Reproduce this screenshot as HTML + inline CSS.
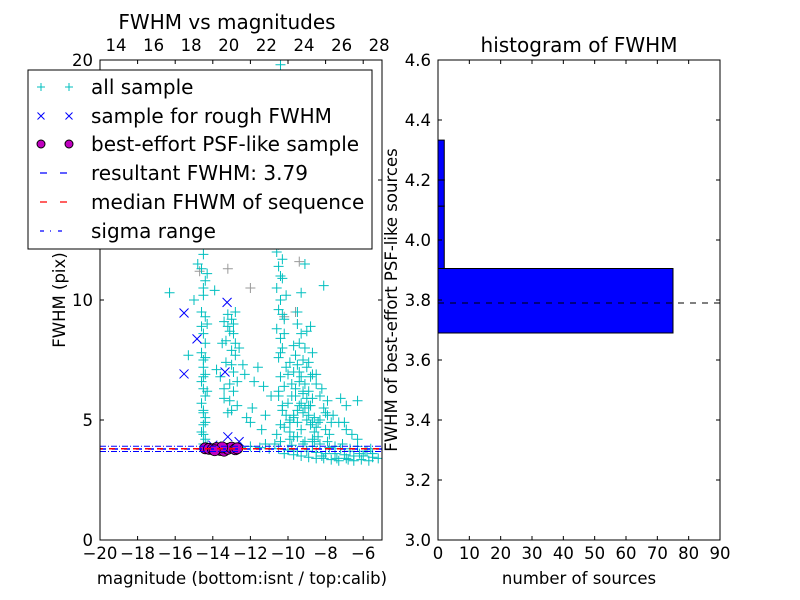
<!DOCTYPE html>
<html><head><meta charset="utf-8"><style>
body{margin:0;background:#fff}
svg{display:block;font-family:"DejaVu Sans","Liberation Sans",sans-serif}
</style></head><body>
<svg id="c" width="800" height="600" viewBox="0 0 800 600"></svg>
<script>
// ---- data ----
const allX=[-14.5,-14.4,-14.6,-14.5,-14.4,-14.5,-14.6,-14.4,-14.5,-14.6,-14.4,-14.5,-14.5,-14.6,-14.4,-14.5,-14.3,-14.6,-14.5,-14.4,-14.6,-14.5,
-13.4,-13.2,-13.0,-13.5,-12.9,-13.3,-12.8,-13.6,-13.1,-12.9,-13.4,-12.7,-13.0,-12.6,-12.8,-13.8,-12.3,-12.2,-11.9,
-10.6,-10.4,-10.5,-10.3,-10.6,-10.5,-10.4,-10.6,-10.5,-10.3,-10.6,-10.4,-10.5,-10.2,-10.6,-10.4,-10.3,-10.5,-10.1,-10.4,-10.2,-10.5,-10.0,-10.3,-9.9,-10.2,-10.6,-10.4,-10.4,-10.7,-10.2,
-9.8,-9.6,-9.4,-9.2,-9.0,-8.8,-9.7,-9.5,-9.3,-8.6,-8.4,-9.9,-9.7,-9.5,-9.3,-9.1,-9.6,-9.8,-9.0,-8.7,-8.5,-8.2,-7.9,-7.6,-7.3,-6.9,-6.6,-6.3,-9.4,-9.2,-8.9,-8.3,-8.0,-7.8,-9.9,-9.7,-10.9,-11.2,-11.4,-11.8,-12.0,-8.8,-6.9,-7.2,-6.3,-8.1,-9.0,
-14.3,-13.6,-12.5,-12.0,-11.5,-11.0,-10.5,-10.0,-9.5,-9.0,-8.5,-8.0,-7.5,-7.0,-6.5,-6.0,-5.5,-5.2,-9.8,-9.2,-8.7,-7.8,-7.2,-6.7,-6.2,-5.8,-11.2,-10.7,-8.2,-7.4,-6.8,-5.6,
-16.3,-15.3,-15.0,-14.8,-14.9,-13.9,-12.4,-11.6,-11.3,-8.6,-8.0,-7.0,
-14.5,-14.4,-14.5,-14.3,-14.5,-14.4,-14.6,-14.4,-14.5,-14.3,
-13.3,-13.1,-12.9,-13.2,-13.0,-12.8,-13.4,-12.9,-13.1,-12.7,-13.2,-13.0,
-10.5,-10.3,-10.4,-10.2,-10.5,-10.3,-10.4,-10.1,-10.3,-10.2,-10.4,-10.0,-10.5,-10.3,-10.1,-10.4,
-9.9,-9.7,-9.5,-9.3,-9.1,-8.9,-8.7,-8.5,-9.8,-9.6,-9.4,-9.2,-9.0,-8.8,-8.6,-8.4,-9.7,-9.5,-9.3,-9.1,-8.9,-8.7,-9.6,-9.4,-9.2,-9.0,-8.8,-9.5,-9.3,-9.1,-8.9,-8.7,-8.5,-8.3,-8.1,-7.9,-7.7,
-9.9,-9.5,-9.1,-8.7,-8.3,-7.9,-7.5,-7.1,-6.7,-6.3,-5.9,-5.5,-10.2,-9.7,-9.3,-8.9,-8.5,-8.1,-7.7,-7.3,-6.9,-6.5,-6.1,-5.7];
const allY=[4.0,4.2,4.5,4.8,5.1,5.4,5.7,6.0,6.3,6.6,6.9,7.2,7.5,7.8,8.2,8.6,9.0,9.5,10.2,10.8,11.3,11.9,
9.1,8.9,9.2,8.2,8.6,7.4,7.7,6.8,6.5,6.2,5.9,5.6,5.4,8.0,9.5,7.1,6.9,5.1,5.5,
17.0,16.2,15.4,14.8,14.0,13.3,12.6,12.0,11.4,10.9,10.5,10.0,9.6,9.2,8.8,8.4,8.0,7.6,7.2,6.8,6.4,6.0,5.7,5.4,5.0,4.7,4.4,4.1,19.8,18.2,17.6,
6.5,6.0,5.6,5.3,5.0,4.8,5.2,4.9,4.6,4.5,4.3,7.4,8.1,9.0,10.3,11.5,12.5,13.5,8.7,7.8,6.9,6.3,5.8,5.2,4.9,4.6,4.4,4.2,7.0,6.2,5.6,5.0,4.6,4.4,4.5,4.3,6.0,5.2,4.6,6.6,4.9,8.9,5.6,5.9,5.8,10.6,13.0,
3.95,3.9,3.85,3.9,3.85,3.8,3.8,3.75,3.7,3.7,3.65,3.6,3.6,3.55,3.5,3.5,3.45,3.4,3.95,4.0,3.9,3.85,3.8,3.7,3.6,3.7,4.0,4.0,3.5,3.4,3.35,3.8,
10.3,7.7,10.0,11.5,12.5,10.4,7.3,7.2,6.4,4.1,5.3,4.9,
4.4,4.9,5.3,6.2,6.8,7.6,8.9,9.3,10.5,11.1,
8.3,8.7,9.0,9.4,7.9,8.2,6.3,7.0,5.8,6.6,5.3,7.3,
15.8,14.4,13.6,12.9,12.3,11.7,11.0,10.2,9.4,8.6,7.8,6.9,6.2,5.6,5.2,4.8,
4.9,5.1,5.4,5.7,5.5,5.2,4.9,4.7,6.0,6.3,6.6,6.1,5.9,5.6,5.1,4.9,7.0,7.3,6.8,6.5,6.2,5.9,7.7,8.2,7.5,7.2,6.8,9.5,8.6,8.0,7.4,6.9,6.5,6.0,5.5,5.2,4.9,
4.2,4.3,4.1,4.2,4.0,4.1,3.9,4.0,3.8,3.9,3.7,3.6,3.6,3.55,3.5,3.45,3.4,3.4,3.35,3.3,3.4,3.3,3.35,3.3];
const roughX=[-15.53,-15.53,-14.84,-13.24,-13.35,-13.2,-12.6,-14.0,-13.6];
const roughY=[9.46,6.92,8.38,9.9,7.0,4.3,4.1,3.95,3.85];
const psfX=[-14.4,-14.2,-14.0,-13.8,-13.6,-13.4,-13.2,-13.0,-12.8,-12.7,-13.5,-13.9];
const psfY=[3.82,3.8,3.78,3.83,3.75,3.72,3.8,3.85,3.78,3.82,3.86,3.74];
const grayX=[-10.9,-10.2,-9.6,-12.0,-13.2,-14.7,-9.4];
const grayY=[15.2,9.3,9.5,10.5,11.3,11.2,11.6];
const resultFWHM=3.79, medianFWHM=3.8, sigmaLo=3.69, sigmaHi=3.905;
const xTicks=[-20,-18,-16,-14,-12,-10,-8,-6];
const topTicks=[14,16,18,20,22,24,26,28];
const yTicks=[0,5,10,15,20];
const binEdges=[3.69,3.905,4.113,4.2,4.333];
const binCounts=[75,2,2,2];
const hxTicks=[0,10,20,30,40,50,60,70,80,90];
const hyTicks=[3.0,3.2,3.4,3.6,3.8,4.0,4.2,4.4,4.6];

// ---- helpers ----
const S=document.getElementById('c'),NS='http://www.w3.org/2000/svg';
function el(t,a,p){const e=document.createElementNS(NS,t);for(const k in a)e.setAttribute(k,a[k]);(p||S).appendChild(e);return e;}
function txt(x,y,s,sz,anchor,extra){const e=el('text',Object.assign({x:x,y:y,'font-size':sz,'text-anchor':anchor||'middle',fill:'#000'},extra||{}));e.textContent=s;return e;}
const L={x0:100,x1:382,y0:540,y1:60};
const lx=v=>L.x0+(v+20)*(L.x1-L.x0)/15, ly=v=>L.y0-v*(L.y0-L.y1)/20;
const tx=v=>lx(v-33.15);
const R={x0:438,x1:720,y0:540,y1:60};
const hx=v=>R.x0+v*(R.x1-R.x0)/90, hy=v=>R.y0-(v-3.0)*(R.y0-R.y1)/1.6;

const gL=el('g',{});


const defs=el('defs',{});const cp=el('clipPath',{id:'cl'},defs);el('rect',{x:L.x0,y:L.y1,width:L.x1-L.x0,height:L.y0-L.y1},cp);
const pts=el('g',{'clip-path':'url(#cl)'},gL);
function plus(x,y,c,g,h){h=h||5;el('path',{d:`M${x-h},${y}h${2*h}M${x},${y-h}v${2*h}`,stroke:c,'stroke-width':1,fill:'none'},g);}
for(let i=0;i<grayX.length;i++){plus(lx(grayX[i]),ly(grayY[i]),'#999',pts);}
for(let i=0;i<allX.length;i++){plus(lx(allX[i]),ly(allY[i]),'#00bfbf',pts);}
for(let i=0;i<roughX.length;i++){const x=lx(roughX[i]),y=ly(roughY[i]);el('path',{d:`M${x-4.5},${y-4.5}l9,9M${x-4.5},${y+4.5}l9,-9`,stroke:'#0000ff','stroke-width':1},pts);}
for(let i=0;i<psfX.length;i++){el('circle',{cx:lx(psfX[i]),cy:ly(psfY[i]),r:5.5,fill:'#bf00bf',stroke:'#000','stroke-width':0.8},pts);}
el('line',{x1:L.x0,x2:L.x1,y1:ly(sigmaLo),y2:ly(sigmaLo),stroke:'#0000ff','stroke-dasharray':'6,2,1,2'},pts);
el('line',{x1:L.x0,x2:L.x1,y1:ly(sigmaHi),y2:ly(sigmaHi),stroke:'#0000ff','stroke-dasharray':'6,2,1,2'},pts);
el('line',{x1:L.x0,x2:L.x1,y1:ly(resultFWHM),y2:ly(resultFWHM),stroke:'#0000ff','stroke-width':1.5,'stroke-dasharray':'6,6'},pts);
el('line',{x1:L.x0,x2:L.x1,y1:ly(medianFWHM),y2:ly(medianFWHM),stroke:'#ff0000','stroke-width':1.5,'stroke-dasharray':'6,6','stroke-dashoffset':3},pts);
el('rect',{x:L.x0,y:L.y1,width:L.x1-L.x0,height:L.y0-L.y1,fill:'none',stroke:'#000'},gL);
xTicks.forEach(v=>{const x=lx(v);el('path',{d:`M${x},${L.y0}v-4M${x},${L.y1}v4`,stroke:'#000'},gL);txt(x,L.y0+19,'\u2212'+Math.abs(v),16.5);});
topTicks.forEach(v=>{txt(tx(v),51,String(v),16.5);});
yTicks.forEach(v=>{const y=ly(v);el('path',{d:`M${L.x0},${y}h4M${L.x1},${y}h-4`,stroke:'#000'},gL);txt(L.x0-7,y+6,String(v),16.5,'end');});
txt(242,584,'magnitude (bottom:isnt / top:calib)',16.5);
txt(0,0,'FWHM (pix)',16.5,'middle',{transform:'translate(65,300) rotate(-90)'});
txt(227,29,'FWHM vs magnitudes',20);
const lg=el('g',{});


el('rect',{x:28,y:70,width:344,height:179,fill:'#fff',stroke:'#000'},lg);
const ly0=[87,116,144,173,202,231];
const labs=['all sample','sample for rough FWHM','best-effort PSF-like sample','resultant FWHM: 3.79','median FHWM of sequence','sigma range'];
[41,69].forEach(x=>{plus(x,ly0[0],'#00bfbf',lg,4);el('path',{d:`M${x-3.5},${ly0[1]-3.5}l7,7M${x-3.5},${ly0[1]+3.5}l7,-7`,stroke:'#0000ff'},lg);el('circle',{cx:x,cy:ly0[2],r:4,fill:'#bf00bf',stroke:'#000'},lg);});
el('path',{d:`M40,${ly0[3]}h7M60,${ly0[3]}h7`,stroke:'#0000ff','stroke-width':1.2},lg);
el('path',{d:`M40,${ly0[4]}h7M60,${ly0[4]}h7`,stroke:'#ff0000','stroke-width':1.2},lg);
el('path',{d:`M40,${ly0[5]}h4M50,${ly0[5]}h1M58,${ly0[5]}h4`,stroke:'#0000ff','stroke-width':1.2},lg);
labs.forEach((s,i)=>{const t=txt(91,ly0[i]+7,s,20,'start');lg.appendChild(t);});

const gR=el('g',{});


for(let i=0;i<binCounts.length;i++){const b=el('rect',{x:hx(0),y:hy(binEdges[i+1]),width:hx(binCounts[i])-hx(0),height:hy(binEdges[i])-hy(binEdges[i+1]),fill:'#0000ff',stroke:'#000'},gR);

}
el('line',{x1:R.x0,x2:R.x1,y1:hy(resultFWHM),y2:hy(resultFWHM),stroke:'#000','stroke-dasharray':'6,6'},gR);
el('rect',{x:R.x0,y:R.y1,width:R.x1-R.x0,height:R.y0-R.y1,fill:'none',stroke:'#000'},gR);
hxTicks.forEach(v=>{const x=hx(v);el('path',{d:`M${x},${R.y0}v-4M${x},${R.y1}v4`,stroke:'#000'},gR);txt(x,R.y0+19,String(v),16.5);});
hyTicks.forEach(v=>{const y=hy(v);el('path',{d:`M${R.x0},${y}h4M${R.x1},${y}h-4`,stroke:'#000'},gR);txt(R.x0-7,y+6,v.toFixed(1),16.5,'end');});
txt(579,584,'number of sources',16.5);
txt(0,0,'FWHM of best-effort PSF-like sources',16.5,'middle',{transform:'translate(397,300) rotate(-90)'});
txt(579,52,'histogram of FWHM',20);
</script>
</body></html>
